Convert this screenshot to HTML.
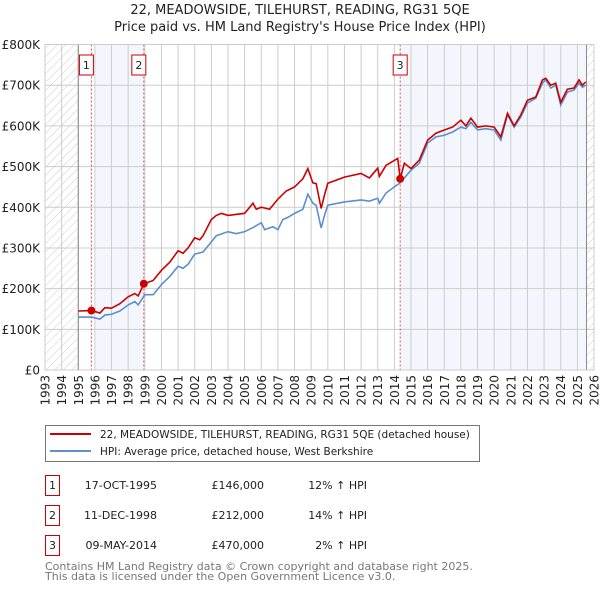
<!DOCTYPE html>
<html><head><meta charset="utf-8">
<style>
body{margin:0;background:#fff;font-family:"DejaVu Sans","Liberation Sans",sans-serif;}
svg text{font-family:"DejaVu Sans","Liberation Sans",sans-serif;}
</style></head>
<body>
<svg id="chart" width="600" height="590" xmlns="http://www.w3.org/2000/svg">
<defs>
<pattern id="hatch" width="6" height="6" patternUnits="userSpaceOnUse" patternTransform="rotate(45)">
<line x1="0" y1="0" x2="0" y2="6" stroke="#ccc" stroke-width="1"/>
</pattern>
</defs>
<text x="300" y="14" text-anchor="middle" font-size="13" fill="#222">22, MEADOWSIDE, TILEHURST, READING, RG31 5QE</text>
<text x="300" y="31" text-anchor="middle" font-size="13" fill="#222">Price paid vs. HM Land Registry's House Price Index (HPI)</text>
<g id="plot"></g>
<g>
<rect x="45.5" y="425.5" width="434" height="36" fill="#fff" stroke="#777"/>
<line x1="50" y1="434" x2="91" y2="434" stroke="#cc0000" stroke-width="2"/>
<text x="100" y="438" font-size="10.5" fill="#222">22, MEADOWSIDE, TILEHURST, READING, RG31 5QE (detached house)</text>
<line x1="50" y1="451" x2="91" y2="451" stroke="#5b8fd0" stroke-width="2"/>
<text x="100" y="455" font-size="10.5" fill="#222">HPI: Average price, detached house, West Berkshire</text>
</g>
<g font-size="11" fill="#222">
<rect x="45.5" y="475.5" width="14" height="20" fill="#fff" stroke="#cc0000"/><text x="52.5" y="489" text-anchor="middle">1</text>
<text x="157" y="489" text-anchor="end">17-OCT-1995</text><text x="264" y="489" text-anchor="end">£146,000</text><text x="367" y="489" text-anchor="end">12% ↑ HPI</text>
<rect x="45.5" y="505.5" width="14" height="20" fill="#fff" stroke="#cc0000"/><text x="52.5" y="519" text-anchor="middle">2</text>
<text x="157" y="519" text-anchor="end">11-DEC-1998</text><text x="264" y="519" text-anchor="end">£212,000</text><text x="367" y="519" text-anchor="end">14% ↑ HPI</text>
<rect x="45.5" y="535.5" width="14" height="20" fill="#fff" stroke="#cc0000"/><text x="52.5" y="549" text-anchor="middle">3</text>
<text x="157" y="549" text-anchor="end">09-MAY-2014</text><text x="264" y="549" text-anchor="end">£470,000</text><text x="367" y="549" text-anchor="end">2% ↑ HPI</text>
</g>
<text x="45" y="570" font-size="11" fill="#777">Contains HM Land Registry data © Crown copyright and database right 2025.</text>
<text x="45" y="580" font-size="11" fill="#777">This data is licensed under the Open Government Licence v3.0.</text>
</svg>
<script>
const hpiYears=[1995,1995.8,1996.3,1996.6,1997,1997.5,1998,1998.4,1998.6,1999,1999.5,2000,2000.5,2001,2001.3,2001.6,2002,2002.5,2003,2003.3,2004,2004.5,2005,2005.5,2006,2006.2,2006.7,2007,2007.3,2007.6,2008,2008.5,2008.8,2009.1,2009.3,2009.6,2009.8,2010,2011,2012,2012.5,2013,2013.1,2013.5,2014,2014.35,2015,2015.5,2016,2016.5,2017,2017.5,2018,2018.3,2018.6,2019,2019.5,2020,2020.4,2020.8,2021.2,2021.6,2022,2022.5,2022.9,2023.1,2023.4,2023.7,2024.0,2024.4,2024.8,2025.1,2025.3,2025.5];
const hpiValues=[130,130,125,135,137,145,160,168,160,185,185,210,230,255,250,260,285,290,315,330,340,335,340,350,362,345,352,345,370,375,385,395,432,410,405,349,380,405,413,418,415,422,410,435,450,460,491,508,558,573,577,585,597,593,609,590,593,590,565,627,597,622,656,668,705,713,693,700,651,683,688,705,695,700];
const redYears=[1995,1995.8,1996.3,1996.6,1997,1997.5,1998,1998.4,1998.6,1998.95,1999.5,2000,2000.5,2001,2001.3,2001.6,2002,2002.3,2002.5,2003,2003.3,2003.6,2004,2005,2005.5,2005.7,2006,2006.5,2007,2007.5,2008,2008.5,2008.8,2009.1,2009.3,2009.6,2009.8,2010,2011,2012,2012.5,2013,2013.1,2013.5,2014.2,2014.35,2014.6,2015,2015.5,2016,2016.5,2017,2017.5,2018,2018.3,2018.6,2019,2019.5,2020,2020.4,2020.8,2021.2,2021.6,2022,2022.5,2022.9,2023.1,2023.4,2023.7,2024.0,2024.4,2024.8,2025.1,2025.3,2025.5];
const redValues=[145,146,140,153,152,163,180,188,182,212,220,245,265,293,287,300,325,320,330,370,380,385,380,385,410,395,400,395,420,440,450,470,495,460,458,397,430,459,474,483,472,496,476,503,520,470,508,495,516,565,582,590,597,614,600,619,597,600,597,573,631,600,627,663,671,713,717,700,705,658,690,693,713,700,708];
const saleYears=[1995.79,1998.94,2014.35];
const saleValues=[146,212,470];
const saleLabels=["1","2","3"];
const yTicks=[0,100,200,300,400,500,600,700,800];
const yTickLabels=["£0","£100K","£200K","£300K","£400K","£500K","£600K","£700K","£800K"];
const xTicks=[1993,1994,1995,1996,1997,1998,1999,2000,2001,2002,2003,2004,2005,2006,2007,2008,2009,2010,2011,2012,2013,2014,2015,2016,2017,2018,2019,2020,2021,2022,2023,2024,2025,2026];

const X0=45,X1=594,Y0=370,Y1=44.5;
const xs=y=>X0+(y-1993)/33*(X1-X0);
const ys=v=>Y0-v/800*(Y0-Y1);
const NS="http://www.w3.org/2000/svg";
const g=document.getElementById('plot');
function mk(t,a){const e=document.createElementNS(NS,t);for(const k in a)e.setAttribute(k,a[k]);g.appendChild(e);return e;}

let r=mk('rect',{x:xs(1996.05),y:Y1,width:xs(1998.94)-xs(1996.05),height:Y0-Y1,fill:'#f3f7fd'});


r=mk('rect',{x:xs(2014.35),y:Y1,width:xs(2025.55)-xs(2014.35),height:Y0-Y1,fill:'#f3f7fd'});


r=mk('rect',{x:X0,y:Y1,width:xs(1995)-X0,height:Y0-Y1,fill:'url(#hatch)'});


r=mk('rect',{x:xs(2025.55),y:Y1,width:X1-xs(2025.55),height:Y0-Y1,fill:'url(#hatch)'});



xTicks.forEach(t=>{
  const l=mk('line',{x1:xs(t),x2:xs(t),y1:Y1,y2:Y0,stroke:'#ccc','stroke-width':1});
  
  
  const tx=mk('text',{x:0,y:0,'font-size':12,fill:'#222','text-anchor':'end',transform:`translate(${xs(t)+4.5},375) rotate(-90)`});
  tx.textContent=t;
  
  
});
yTicks.forEach((t,i)=>{
  const l=mk('line',{x1:X0,x2:X1,y1:ys(t),y2:ys(t),stroke:'#ccc','stroke-width':1});
  
  
  const tx=mk('text',{x:40,y:ys(t)+4.5,'font-size':12,fill:'#222','text-anchor':'end'});
  tx.textContent=yTickLabels[i];
  
  
});
[1995,2025.55].forEach(t=>{
  const l=mk('line',{x1:xs(t),x2:xs(t),y1:Y1,y2:Y0,stroke:'#888','stroke-width':1});
  
  
});
saleYears.forEach((s,i)=>{
  const l=mk('line',{x1:xs(s),x2:xs(s),y1:Y1,y2:Y0,stroke:'#e05050','stroke-width':1,'stroke-dasharray':'2,2'});
  
  
});
let p=mk('polyline',{points:hpiYears.map((y,i)=>xs(y)+','+ys(hpiValues[i])).join(' '),fill:'none',stroke:'#5b8fd0','stroke-width':1.6});


p=mk('polyline',{points:redYears.map((y,i)=>xs(y)+','+ys(redValues[i])).join(' '),fill:'none',stroke:'#cc0000','stroke-width':1.6});


saleYears.forEach((s,i)=>{
  const c=mk('circle',{cx:xs(s),cy:ys(saleValues[i]),r:4,fill:'#cc0000'});
  
  
  const bx=xs(s)-7-(i<2?5:0);
  const b=mk('rect',{x:bx,y:55,width:14,height:20,fill:'#fff',stroke:'#cc0000'});
  
  
  const t=mk('text',{x:bx+7,y:69,'font-size':11,fill:'#222','text-anchor':'middle'});
  t.textContent=saleLabels[i];
  
  
});
const fr=mk('rect',{x:X0,y:Y1,width:X1-X0,height:Y0-Y1,fill:'none',stroke:'#ccc'});


</script>
</body></html>
